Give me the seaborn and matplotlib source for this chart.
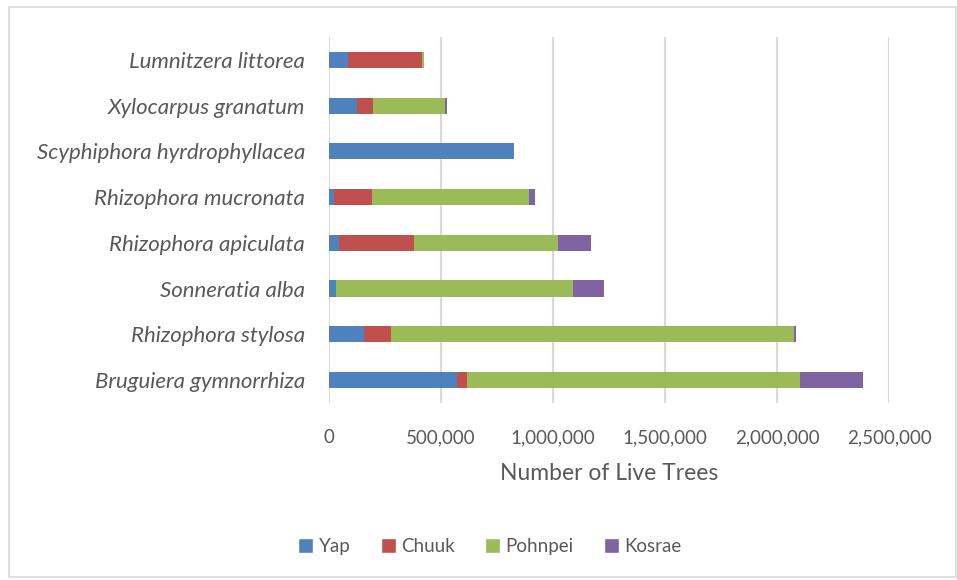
import pandas as pd
import matplotlib.pyplot as plt
import seaborn as sns
from matplotlib.patches import Patch, Rectangle
from matplotlib.ticker import FuncFormatter

# data
species = ['Lumnitzera littorea', 'Xylocarpus granatum', 'Scyphiphora hyrdrophyllacea',
           'Rhizophora mucronata', 'Rhizophora apiculata', 'Sonneratia alba',
           'Rhizophora stylosa', 'Bruguiera gymnorrhiza']
states = ['Yap', 'Chuuk', 'Pohnpei', 'Kosrae']
yap = [86000, 126000, 829000, 23000, 47000, 33000, 160000, 572000]
chuuk = [331000, 74000, 0, 173000, 336000, 0, 120000, 46000]
pohnpei = [7000, 321000, 0, 696000, 640000, 1058000, 1797000, 1487000]
kosrae = [0, 6000, 0, 28000, 149000, 137000, 10000, 280000]
xticks = [0, 500000, 1000000, 1500000, 2000000, 2500000]

colors = ['#4F81BD', '#C0504D', '#9BBB59', '#8064A2']
grey = '#595959'

df = pd.DataFrame({'species': species, 'Yap': yap, 'Chuuk': chuuk,
                   'Pohnpei': pohnpei, 'Kosrae': kosrae})
cum = df[states].cumsum(axis=1)
cum['species'] = df['species']

sns.set_style('white')
plt.rcParams['font.family'] = ['Lato', 'DejaVu Sans']

fig = plt.figure(figsize=(9.57, 5.8), dpi=100)
ax = fig.add_axes([0.3433, 0.3052, 0.5857, 0.631])

# stacked bars: draw running totals from the largest down
for state, col in reversed(list(zip(states, colors))):
    sns.barplot(data=cum, x=state, y='species', order=species, color=col,
                saturation=1, width=0.355, orient='h', errorbar=None, ax=ax,
                linewidth=0)

ax.set_xlim(0, 2500000)
ax.set_xticks(xticks)
ax.xaxis.set_major_formatter(FuncFormatter(lambda v, p: f'{v:,.0f}'))
ax.grid(axis='x', color='#D9D9D9', linewidth=1.5)
ax.set_axisbelow(True)
for s in ax.spines.values():
    s.set_visible(False)

ax.tick_params(axis='x', length=0, pad=19, labelsize=13.5, labelcolor=grey)
ax.tick_params(axis='y', length=0, pad=17, labelsize=16, labelcolor=grey)
for lab in ax.get_yticklabels():
    lab.set_fontstyle('italic')
ax.set_ylabel('')
ax.set_xlabel('Number of Live Trees', fontsize=16.5, color=grey, labelpad=12)

handles = [Patch(facecolor=c, label=s) for s, c in zip(states, colors)]
fig.legend(handles=handles, loc='center', bbox_to_anchor=(0.512, 0.058), ncol=4,
           frameon=False, fontsize=13.5, labelcolor=grey, handlelength=0.8,
           handleheight=0.8, handletextpad=0.3, columnspacing=1.6)

# light chart-area border
fig.patches.append(Rectangle((0.009, 0.006), 0.99, 0.982, transform=fig.transFigure,
                             fill=False, edgecolor='#D9D9D9', linewidth=1.2))

fig.savefig('out.png', dpi=100)
